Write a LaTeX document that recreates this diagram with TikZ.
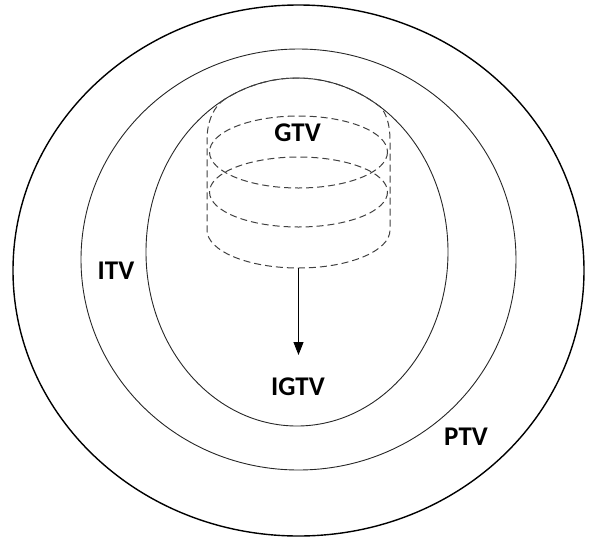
\documentclass[tikz,border=0pt]{standalone}
\usepackage{fontspec}
\setmainfont{Carlito}
\usetikzlibrary{arrows.meta,calc}
\begin{document}
\begin{tikzpicture}[x=1pt,y=-1pt,
  ring/.style={draw=black!85, line width=0.9pt},
  coil/.style={draw=black!75, line width=1pt, dash pattern=on 7pt off 4pt},
  lbl/.style={font=\fontsize{27}{30}\selectfont\bfseries, inner sep=0pt, text=black}]
\useasboundingbox (0,0) rectangle (595,539);
% nested volumes
\draw[ring, line width=1.4pt, draw=black] (298.5,270.5) ellipse [x radius=285.5, y radius=265.5];
\draw[ring] (298.5,259.5) ellipse [x radius=217.5, y radius=210.5];
\draw[ring] (297,252) ellipse [x radius=151, y radius=174];
% GTV positions
\draw[coil] (298.5,152) ellipse [x radius=89, y radius=36];
\draw[coil] (298.5,192) ellipse [x radius=89, y radius=35];
% envelope of the moving GTV
\coordinate (L1) at ($(297,252)+(-118.5:151 and 174)$);
\coordinate (R1) at ($(297,252)+(-56.6:151 and 174)$);
\coordinate (bot) at (298.5,268);
\draw[coil] (L1) .. controls (214,106) and (207,121) .. (207,140) -- (207,230)
  arc[start angle=180, end angle=0, x radius=91.5, y radius=38]
  -- (390,140) .. controls (390,124) and (386,113) .. (R1)
  arc[start angle=-56.6, end angle=-118.5, x radius=151, y radius=174];
% arrow
\coordinate (tip) at (298.5,355);
\draw[line width=1pt, -{Triangle[length=13pt,width=10pt]}] (bot) -- (tip);
% labels
\node[lbl] (gtv) at (297.5,133) {GTV};
\node[lbl] (itv) at (116,271) {ITV};
\node[lbl] (igtv) at (298,387) {IGTV};
\node[lbl] (ptv) at (466,437) {PTV};
\end{tikzpicture}
\end{document}
